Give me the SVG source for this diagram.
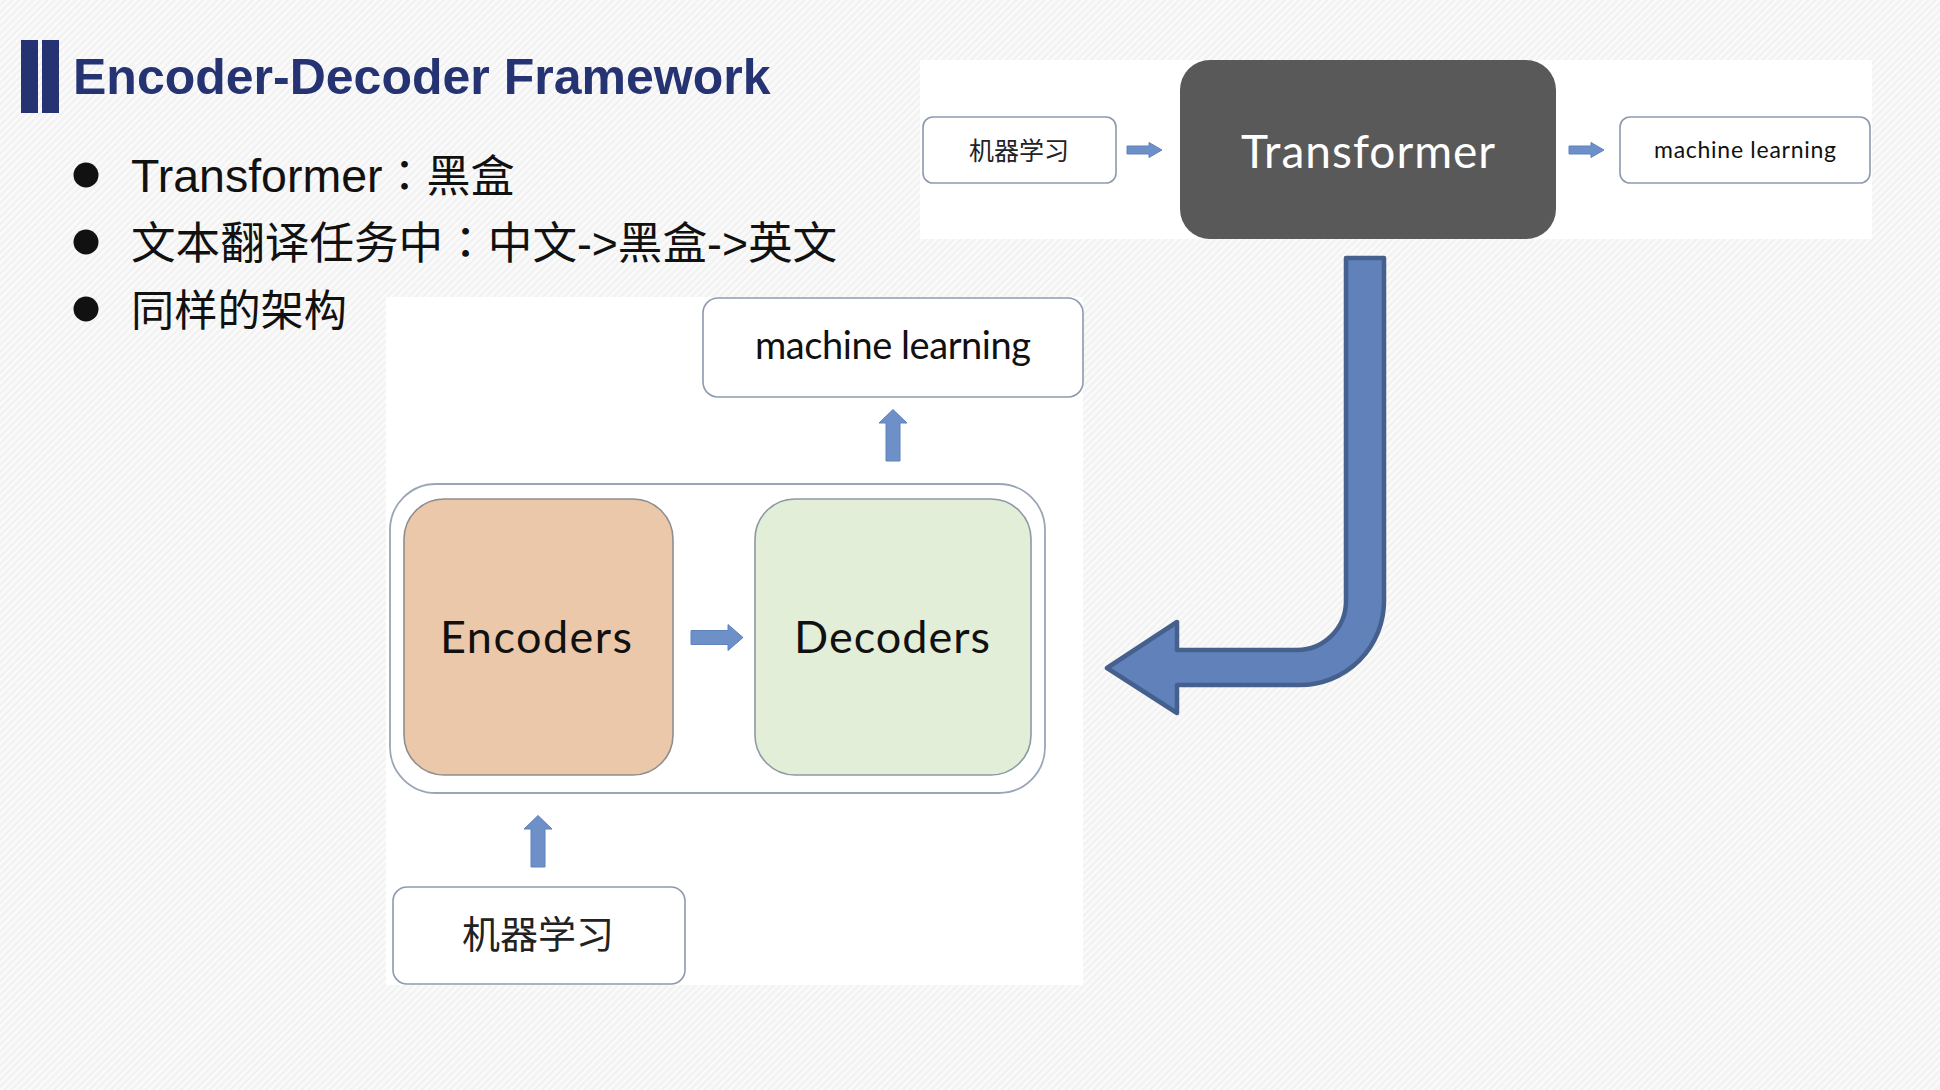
<svg xmlns="http://www.w3.org/2000/svg" width="1940" height="1090" viewBox="0 0 1940 1090">
  <defs>
    <pattern id="hatch" width="5" height="5" patternUnits="userSpaceOnUse" patternTransform="rotate(45)">
      <rect width="5" height="5" fill="#f2f2f2"/>
      <rect width="2.5" height="5" fill="#fbfbfb"/>
    </pattern>
    <style>
      .title { font-family: "Liberation Sans", "Noto Sans CJK SC", sans-serif; font-weight: bold; font-size: 50px; fill: #253372; }
      .bullet { font-family: "Liberation Sans", "Noto Sans CJK SC", sans-serif; font-size: 44px; fill: #111111; }
      .colon { font-family: "Noto Sans CJK TC", "Noto Sans CJK SC", sans-serif; }
      .cal { font-family: "Lato", "Liberation Sans", sans-serif; fill: #111111; text-anchor: middle; }
      .cjk { font-family: "Noto Sans CJK SC", sans-serif; fill: #222222; text-anchor: middle; }
      .box { fill: #ffffff; stroke: #8d9aad; stroke-width: 1.6; }
      .blk { fill: #6d90c9; stroke: #5f82bd; stroke-width: 1; }
      .bend { fill: #6181bb; stroke: #46608e; stroke-width: 4.5; stroke-linejoin: round; }
    </style>
  </defs>

  <!-- background -->
  <rect x="0" y="0" width="1940" height="1090" fill="url(#hatch)"/>
  <rect x="920" y="60" width="952" height="179" fill="#ffffff"/>
  <rect x="386" y="297" width="697" height="688" fill="#ffffff"/>

  <!-- title -->
  <g id="title">
    <rect x="21" y="40" width="17" height="73" fill="#253372"/>
    <rect x="42" y="40" width="17" height="73" fill="#253372"/>
    <text class="title" x="73" y="94">Encoder-Decoder Framework</text>
  </g>

  <!-- bullets -->
  <g id="bullets">
    <circle cx="86" cy="175" r="12.5" fill="#111111"/>
    <circle cx="86" cy="242" r="12.5" fill="#111111"/>
    <circle cx="86" cy="309" r="12.5" fill="#111111"/>
    <text class="bullet" x="131" y="192"><tspan style="font-size:46.5px">Transformer</tspan><tspan class="colon">：</tspan>黑盒</text>
    <text class="bullet" x="131" y="259" style="font-size:44.6px">文本翻译任务中<tspan class="colon">：</tspan>中文-&gt;黑盒-&gt;英文</text>
    <text class="bullet" x="131" y="326" style="font-size:43.2px">同样的架构</text>
  </g>

  <!-- top row -->
  <g id="node-top-input">
    <rect class="box" x="923" y="117" width="193" height="66" rx="10"/>
    <text class="cjk" x="1019" y="159.5" style="font-size:25px">机器学习</text>
  </g>
  <g id="node-transformer">
    <rect x="1180" y="60" width="376" height="179" rx="30" fill="#595959"/>
    <text class="cal" x="1368" y="168" style="font-size:46px;fill:#ffffff" textLength="254">Transformer</text>
  </g>
  <g id="node-top-output">
    <rect class="box" x="1620" y="117" width="250" height="66" rx="10"/>
    <text class="cal" x="1745" y="158" style="font-size:23px" textLength="182">machine learning</text>
  </g>

  <!-- lower diagram -->
  <g id="node-container">
    <rect x="390" y="484" width="655" height="309" rx="46" fill="#ffffff" stroke="#9aa6b7" stroke-width="1.8"/>
  </g>
  <g id="node-encoders">
    <rect x="404" y="499" width="269" height="276" rx="40" fill="#ebc8aa" stroke="#8e8e8e" stroke-width="1.6"/>
    <text class="cal" x="536" y="653" style="font-size:45px" textLength="192">Encoders</text>
  </g>
  <g id="node-decoders">
    <rect x="755" y="499" width="276" height="276" rx="40" fill="#e3eed9" stroke="#8a9aa2" stroke-width="1.6"/>
    <text class="cal" x="892" y="653" style="font-size:45px" textLength="196">Decoders</text>
  </g>
  <g id="node-bottom-output">
    <rect class="box" x="703" y="298" width="380" height="99" rx="15"/>
    <text class="cal" x="893" y="359" style="font-size:38px" textLength="276">machine learning</text>
  </g>
  <g id="node-bottom-input">
    <rect class="box" x="393" y="887" width="292" height="97" rx="14"/>
    <text class="cjk" x="538" y="948" style="font-size:38px">机器学习</text>
  </g>

  <!-- connectors -->
  <g id="connectors">
    <path class="blk" d="M1127 146 H1149 V142.5 L1162 150 L1149 157.5 V154 H1127 Z"/>
    <path class="blk" d="M1569 146 H1591 V142.5 L1604 150 L1591 157.5 V154 H1569 Z"/>
    <path class="blk" d="M691 630.5 H728 V624.5 L743 637.5 L728 650.5 V644.5 H691 Z"/>
    <path class="blk" d="M886 461 V423 H879 L893 409.5 L907 423 H900 V461 Z"/>
    <path class="blk" d="M531 867 V829 H524 L538 815.5 L552 829 H545 V867 Z"/>
    <path class="bend" d="M1346 258 H1384 V601 A84 84 0 0 1 1300 685 H1177 V713 L1107 668 L1177 622 V650 H1297 A49 49 0 0 0 1346 601 Z"/>
  </g>
</svg>
